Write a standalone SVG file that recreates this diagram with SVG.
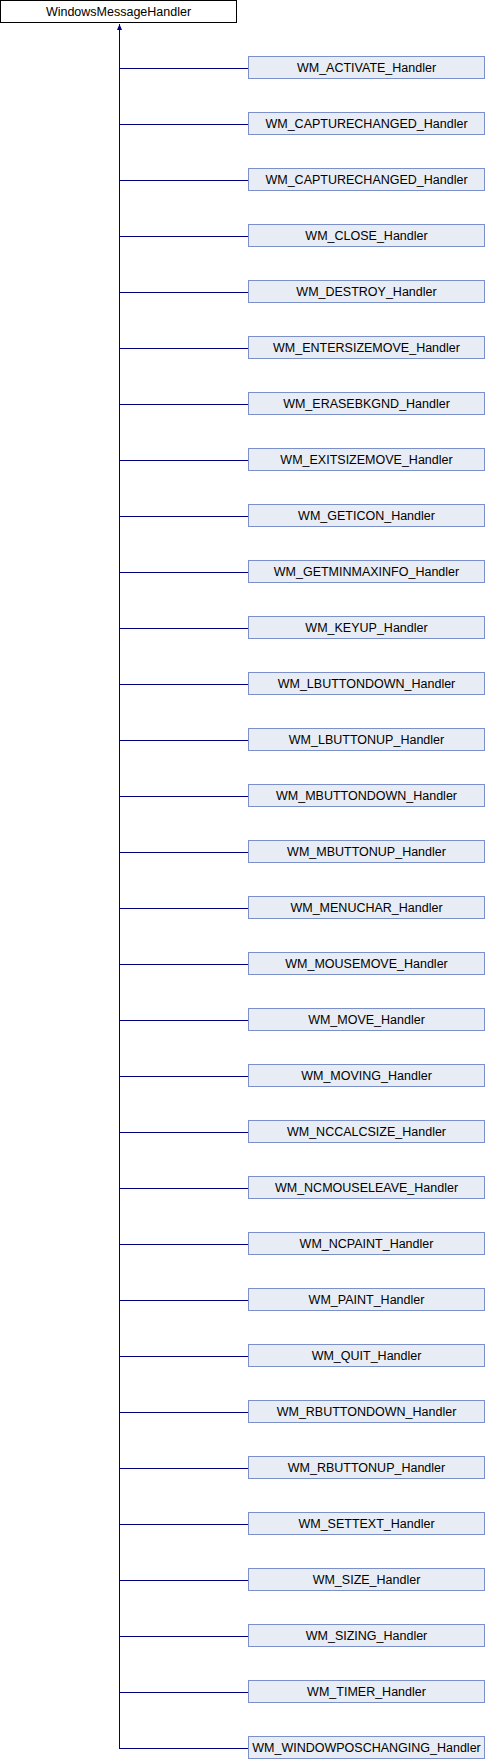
<svg xmlns="http://www.w3.org/2000/svg" width="486" height="1760" viewBox="0 0 486 1760">
<defs>
<style>
.base rect{fill:#ffffff;stroke:#000000;stroke-width:1}
.node rect{fill:#e8ecf5;stroke:#7b8fca;stroke-width:1}
text{font-family:"Liberation Sans",Arial,sans-serif;font-size:12.5px;text-anchor:middle;fill:#000000}
.edges path{fill:none;stroke:#000080;stroke-width:1}
</style>
<marker id="arr" markerWidth="7" markerHeight="6" refX="6" refY="2.5" orient="auto" markerUnits="userSpaceOnUse" viewBox="0 0 7 6">
<path d="M0,0 L6,2.5 L0,5 Z" fill="#000080" stroke="none"/>
</marker>
</defs>
<rect width="486" height="1760" fill="#ffffff"/>
<g class="edges" id="connectors">
<path d="M119.5,1749 V24" marker-end="url(#arr)"/>
<path d="M119.5,68.5 H248"/>
<path d="M119.5,124.5 H248"/>
<path d="M119.5,180.5 H248"/>
<path d="M119.5,236.5 H248"/>
<path d="M119.5,292.5 H248"/>
<path d="M119.5,348.5 H248"/>
<path d="M119.5,404.5 H248"/>
<path d="M119.5,460.5 H248"/>
<path d="M119.5,516.5 H248"/>
<path d="M119.5,572.5 H248"/>
<path d="M119.5,628.5 H248"/>
<path d="M119.5,684.5 H248"/>
<path d="M119.5,740.5 H248"/>
<path d="M119.5,796.5 H248"/>
<path d="M119.5,852.5 H248"/>
<path d="M119.5,908.5 H248"/>
<path d="M119.5,964.5 H248"/>
<path d="M119.5,1020.5 H248"/>
<path d="M119.5,1076.5 H248"/>
<path d="M119.5,1132.5 H248"/>
<path d="M119.5,1188.5 H248"/>
<path d="M119.5,1244.5 H248"/>
<path d="M119.5,1300.5 H248"/>
<path d="M119.5,1356.5 H248"/>
<path d="M119.5,1412.5 H248"/>
<path d="M119.5,1468.5 H248"/>
<path d="M119.5,1524.5 H248"/>
<path d="M119.5,1580.5 H248"/>
<path d="M119.5,1636.5 H248"/>
<path d="M119.5,1692.5 H248"/>
<path d="M119.5,1748.5 H248"/>
</g>
<g id="WindowsMessageHandler" class="base"><rect x="0.5" y="0.5" width="236" height="22"/><text x="118.5" y="16">WindowsMessageHandler</text></g>
<g id="n1" class="node"><rect x="248.5" y="56.5" width="236" height="22"/><text x="366.5" y="72">WM_ACTIVATE_Handler</text></g>
<g id="n2" class="node"><rect x="248.5" y="112.5" width="236" height="22"/><text x="366.5" y="128">WM_CAPTURECHANGED_Handler</text></g>
<g id="n3" class="node"><rect x="248.5" y="168.5" width="236" height="22"/><text x="366.5" y="184">WM_CAPTURECHANGED_Handler</text></g>
<g id="n4" class="node"><rect x="248.5" y="224.5" width="236" height="22"/><text x="366.5" y="240">WM_CLOSE_Handler</text></g>
<g id="n5" class="node"><rect x="248.5" y="280.5" width="236" height="22"/><text x="366.5" y="296">WM_DESTROY_Handler</text></g>
<g id="n6" class="node"><rect x="248.5" y="336.5" width="236" height="22"/><text x="366.5" y="352">WM_ENTERSIZEMOVE_Handler</text></g>
<g id="n7" class="node"><rect x="248.5" y="392.5" width="236" height="22"/><text x="366.5" y="408">WM_ERASEBKGND_Handler</text></g>
<g id="n8" class="node"><rect x="248.5" y="448.5" width="236" height="22"/><text x="366.5" y="464">WM_EXITSIZEMOVE_Handler</text></g>
<g id="n9" class="node"><rect x="248.5" y="504.5" width="236" height="22"/><text x="366.5" y="520">WM_GETICON_Handler</text></g>
<g id="n10" class="node"><rect x="248.5" y="560.5" width="236" height="22"/><text x="366.5" y="576">WM_GETMINMAXINFO_Handler</text></g>
<g id="n11" class="node"><rect x="248.5" y="616.5" width="236" height="22"/><text x="366.5" y="632">WM_KEYUP_Handler</text></g>
<g id="n12" class="node"><rect x="248.5" y="672.5" width="236" height="22"/><text x="366.5" y="688">WM_LBUTTONDOWN_Handler</text></g>
<g id="n13" class="node"><rect x="248.5" y="728.5" width="236" height="22"/><text x="366.5" y="744">WM_LBUTTONUP_Handler</text></g>
<g id="n14" class="node"><rect x="248.5" y="784.5" width="236" height="22"/><text x="366.5" y="800">WM_MBUTTONDOWN_Handler</text></g>
<g id="n15" class="node"><rect x="248.5" y="840.5" width="236" height="22"/><text x="366.5" y="856">WM_MBUTTONUP_Handler</text></g>
<g id="n16" class="node"><rect x="248.5" y="896.5" width="236" height="22"/><text x="366.5" y="912">WM_MENUCHAR_Handler</text></g>
<g id="n17" class="node"><rect x="248.5" y="952.5" width="236" height="22"/><text x="366.5" y="968">WM_MOUSEMOVE_Handler</text></g>
<g id="n18" class="node"><rect x="248.5" y="1008.5" width="236" height="22"/><text x="366.5" y="1024">WM_MOVE_Handler</text></g>
<g id="n19" class="node"><rect x="248.5" y="1064.5" width="236" height="22"/><text x="366.5" y="1080">WM_MOVING_Handler</text></g>
<g id="n20" class="node"><rect x="248.5" y="1120.5" width="236" height="22"/><text x="366.5" y="1136">WM_NCCALCSIZE_Handler</text></g>
<g id="n21" class="node"><rect x="248.5" y="1176.5" width="236" height="22"/><text x="366.5" y="1192">WM_NCMOUSELEAVE_Handler</text></g>
<g id="n22" class="node"><rect x="248.5" y="1232.5" width="236" height="22"/><text x="366.5" y="1248">WM_NCPAINT_Handler</text></g>
<g id="n23" class="node"><rect x="248.5" y="1288.5" width="236" height="22"/><text x="366.5" y="1304">WM_PAINT_Handler</text></g>
<g id="n24" class="node"><rect x="248.5" y="1344.5" width="236" height="22"/><text x="366.5" y="1360">WM_QUIT_Handler</text></g>
<g id="n25" class="node"><rect x="248.5" y="1400.5" width="236" height="22"/><text x="366.5" y="1416">WM_RBUTTONDOWN_Handler</text></g>
<g id="n26" class="node"><rect x="248.5" y="1456.5" width="236" height="22"/><text x="366.5" y="1472">WM_RBUTTONUP_Handler</text></g>
<g id="n27" class="node"><rect x="248.5" y="1512.5" width="236" height="22"/><text x="366.5" y="1528">WM_SETTEXT_Handler</text></g>
<g id="n28" class="node"><rect x="248.5" y="1568.5" width="236" height="22"/><text x="366.5" y="1584">WM_SIZE_Handler</text></g>
<g id="n29" class="node"><rect x="248.5" y="1624.5" width="236" height="22"/><text x="366.5" y="1640">WM_SIZING_Handler</text></g>
<g id="n30" class="node"><rect x="248.5" y="1680.5" width="236" height="22"/><text x="366.5" y="1696">WM_TIMER_Handler</text></g>
<g id="n31" class="node"><rect x="248.5" y="1736.5" width="236" height="22"/><text x="366.5" y="1752">WM_WINDOWPOSCHANGING_Handler</text></g>
</svg>
